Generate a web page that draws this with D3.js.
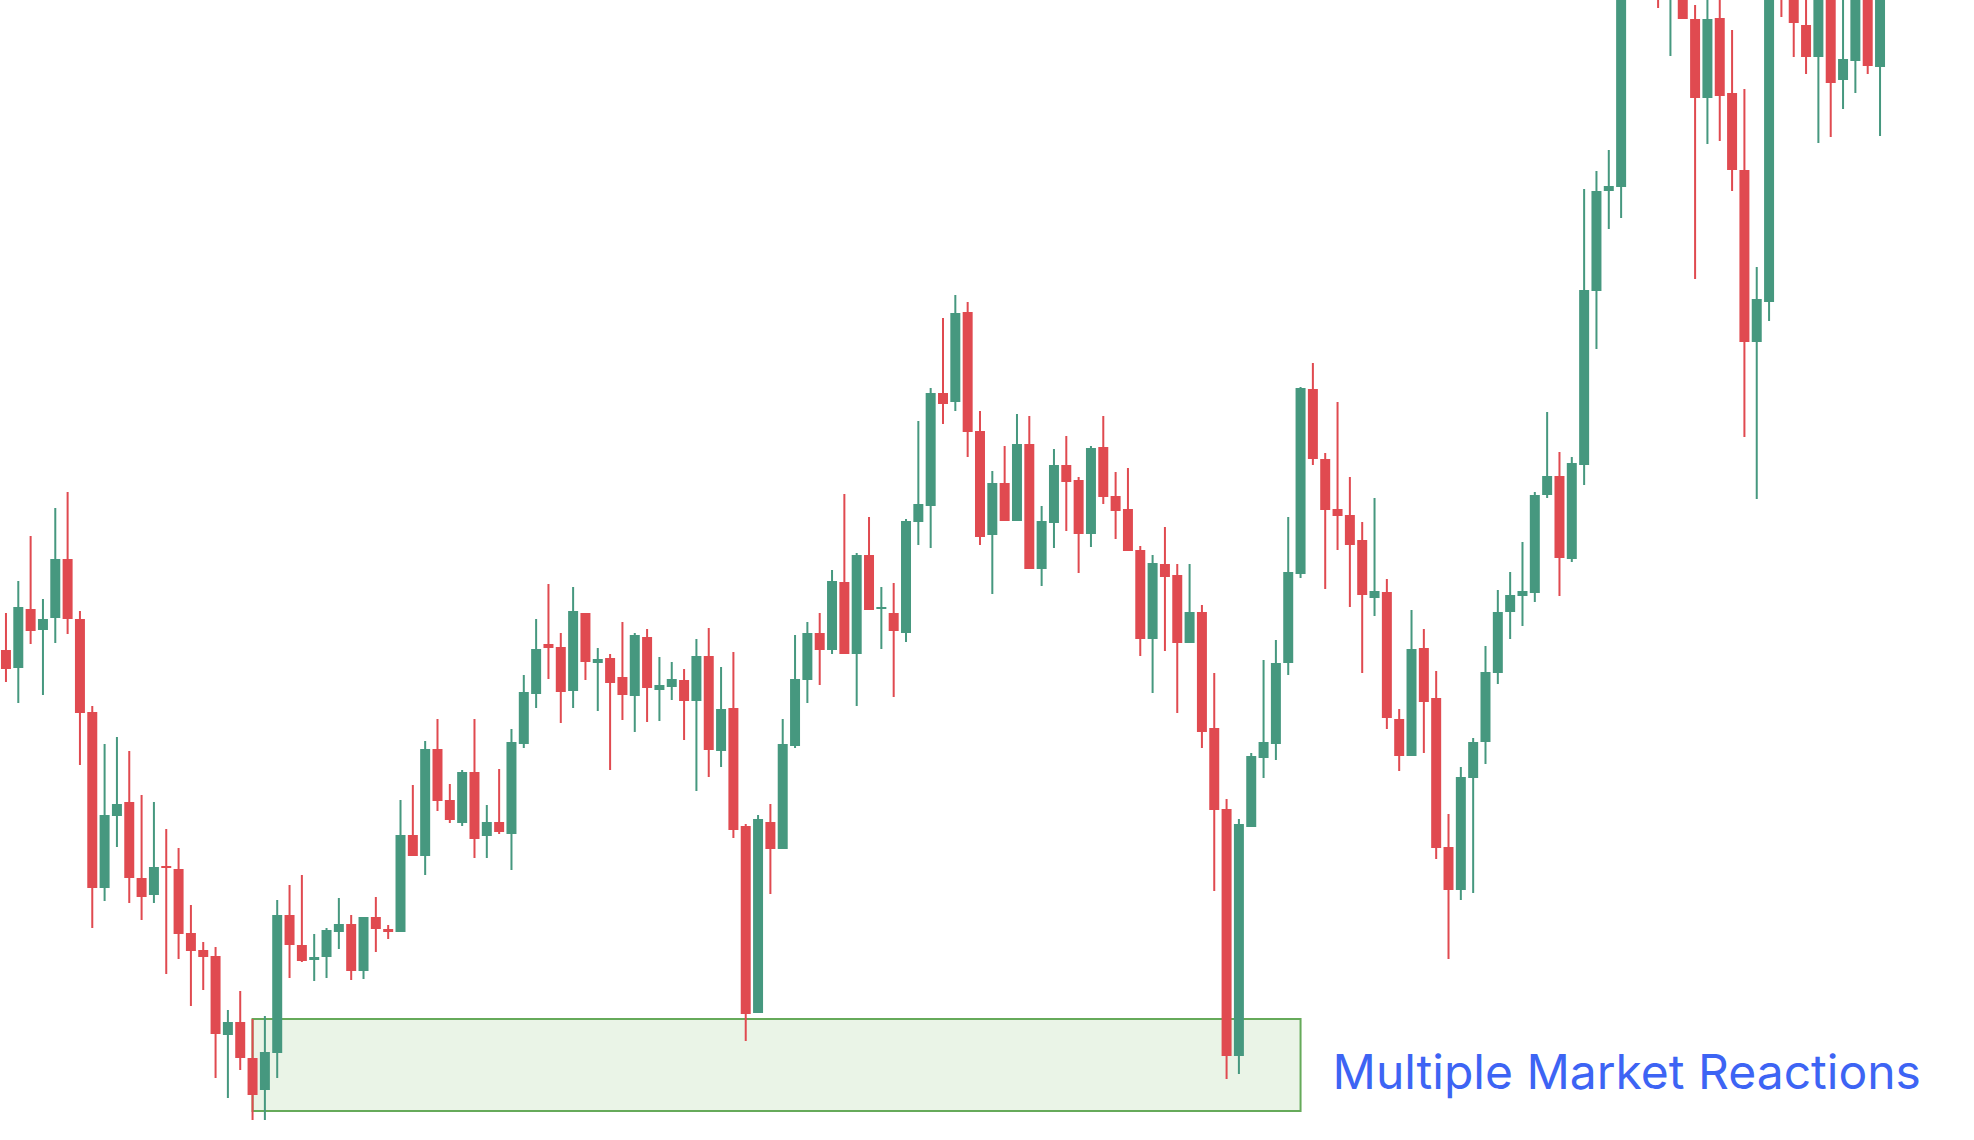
<!doctype html>
<html lang="en">
  <head>
    <meta charset="utf-8">
    <title>Multiple Market Reactions</title>
    <style>
      body { margin: 0; background: #fff; }
      svg { display: block; }
    </style>
  </head>
  <body>
    <script src="https://cdn.jsdelivr.net/npm/d3@7/dist/d3.min.js"></script>
    <script>

      // price in points (no axis shown)
      var opens = [490,472,531,510,522,581,521,428,252,324,338,262,245,274,271,207,190,184,105,118,
                   82,50,87,225,195,180,183,208,216,169,223,211,208,305,284,391,340,317,368,304,
                   318,306,396,446,496,493,449,527,477,482,463,444,503,450,453,460,439,484,389,432,
                   314,127,318,291,394,460,507,490,558,486,585,531,527,507,618,634,747,738,828,709,
                   605,657,619,696,571,617,675,660,606,693,644,631,590,501,576,565,497,528,412,331,
                   84,313,382,396,477,566,751,681,631,625,600,542,548,421,384,492,442,293,250,362,
                   398,467,528,544,547,645,664,581,675,849,949,953,1185,1235,1175,1150,1195,1121,1042,1122,
                   1047,970,798,838,1175,1160,1115,1083,1155,1060,1079,1148,1073];
      var highs = [527,559,604,541,632,648,529,434,396,403,389,345,338,311,292,235,198,193,130,149,
                   121,124,240,255,265,206,212,242,225,223,243,215,340,355,399,421,356,370,421,335,
                   371,411,465,521,556,507,553,527,492,486,518,507,511,483,478,471,501,512,473,488,
                   316,325,336,421,505,518,527,570,646,587,623,553,557,621,719,752,822,845,838,729,
                   669,694,726,724,634,691,704,663,694,724,668,672,594,585,613,576,576,535,467,341,
                   321,387,480,500,623,753,777,687,738,663,618,642,561,431,530,511,469,326,373,402,
                   494,550,568,598,648,728,688,683,951,969,990,1210,1260,1270,1220,1230,1210,1135,1155,1150,
                   1110,1051,873,1165,1200,1180,1155,1170,1165,1152,1160,1158,1170];
      var lows = [458,437,496,445,497,506,375,212,239,293,237,220,237,166,181,134,150,62,42,70,
                  20,20,62,162,178,159,162,191,160,161,188,201,208,284,265,329,317,314,282,282,
                  306,270,392,432,461,417,432,460,429,370,420,408,418,419,440,400,349,363,373,302,
                  99,127,246,291,392,437,455,486,486,434,530,491,443,498,595,592,716,729,683,595,
                  546,619,619,571,554,592,609,567,593,636,601,589,484,447,489,427,497,392,249,61,
                  66,313,362,380,465,562,675,551,590,533,467,524,411,369,384,387,281,181,240,247,
                  376,456,501,514,538,642,544,578,655,791,911,922,1170,1155,1132,1084,1121,861,996,999,
                  949,703,641,819,1123,1083,1066,997,1003,1031,1047,1066,1004];
      var closes = [471,533,509,521,581,521,427,252,325,336,262,243,273,272,206,189,183,106,118,82,
                    45,88,225,195,179,183,210,216,169,223,211,208,305,284,391,339,320,368,301,318,
                    308,398,448,491,492,448,529,478,481,457,445,505,452,455,461,439,484,390,431,310,
                    126,321,291,396,461,507,490,559,486,585,530,533,509,619,636,747,736,827,708,603,
                    657,619,696,571,619,675,658,606,692,643,629,589,501,577,563,497,528,408,330,84,
                    316,384,398,477,568,752,681,630,624,595,545,549,422,384,491,438,292,250,363,398,
                    468,528,545,549,645,664,582,677,850,949,954,1180,1235,1175,1148,1200,1121,1042,1121,1044,
                    970,798,841,1150,1145,1117,1083,1155,1057,1081,1148,1074,1152];

      // support zone: first and last candle, price band
      var zoneCandles = [20, 105];
      var zonePrices  = [121, 29];
      var labelText   = "Multiple Market Reactions";
      var labelPrice  = 51;

      var width  = 1974,
          height = 1140;

      var candles = opens.map(function(o, i){
        return {i: i, open: o, high: highs[i], low: lows[i], close: closes[i]};
      });

      var svg = d3.select("body")
        .append("svg")
        .attr("width", width)
        .attr("height", height);

      var x = d3.scaleBand()
        .domain(d3.range(candles.length))
        .range([-0.2, 1886.2])
        .paddingInner(0.19)
        .paddingOuter(0.095);

      var y = d3.scaleLinear()
        .domain([0, 1140])
        .range([height, 0]);

      var up = "#46987f", down = "#e04a50";

      // zone box behind the candles
      var zx0 = x(zoneCandles[0]) + x.bandwidth() / 2,
          zx1 = x(zoneCandles[1]) + x.bandwidth() / 2;

      svg.append("rect")
        .attr("x", zx0)
        .attr("y", y(zonePrices[0]))
        .attr("width", zx1 - zx0)
        .attr("height", y(zonePrices[1]) - y(zonePrices[0]))
        .attr("fill", "#eaf4e7")
        .attr("stroke", "#66aa5a")
        .attr("stroke-width", 2);

      var g = svg.selectAll(".candle")
        .data(candles)
        .enter()
        .append("g")
        .attr("class", "candle")
        .attr("fill", function(d){ return d.close >= d.open ? up : down; });

      g.append("rect")
        .attr("x", function(d){ return x(d.i) + x.bandwidth() / 2 - 1; })
        .attr("y", function(d){ return y(d.high); })
        .attr("width", 2)
        .attr("height", function(d){ return y(d.low) - y(d.high); });

      g.append("rect")
        .attr("x", function(d){ return x(d.i); })
        .attr("y", function(d){ return y(Math.max(d.open, d.close)); })
        .attr("width", x.bandwidth())
        .attr("height", function(d){ return Math.max(2, Math.abs(y(d.open) - y(d.close))); });

      svg.append("text")
        .attr("x", zx1 + 32)
        .attr("y", y(labelPrice))
        .attr("font-family", "Inter, 'Noto Sans', sans-serif")
        .attr("font-size", 48)
        .attr("fill", "#3d64f4")
        .text(labelText);

    </script>
  </body>
</html>
